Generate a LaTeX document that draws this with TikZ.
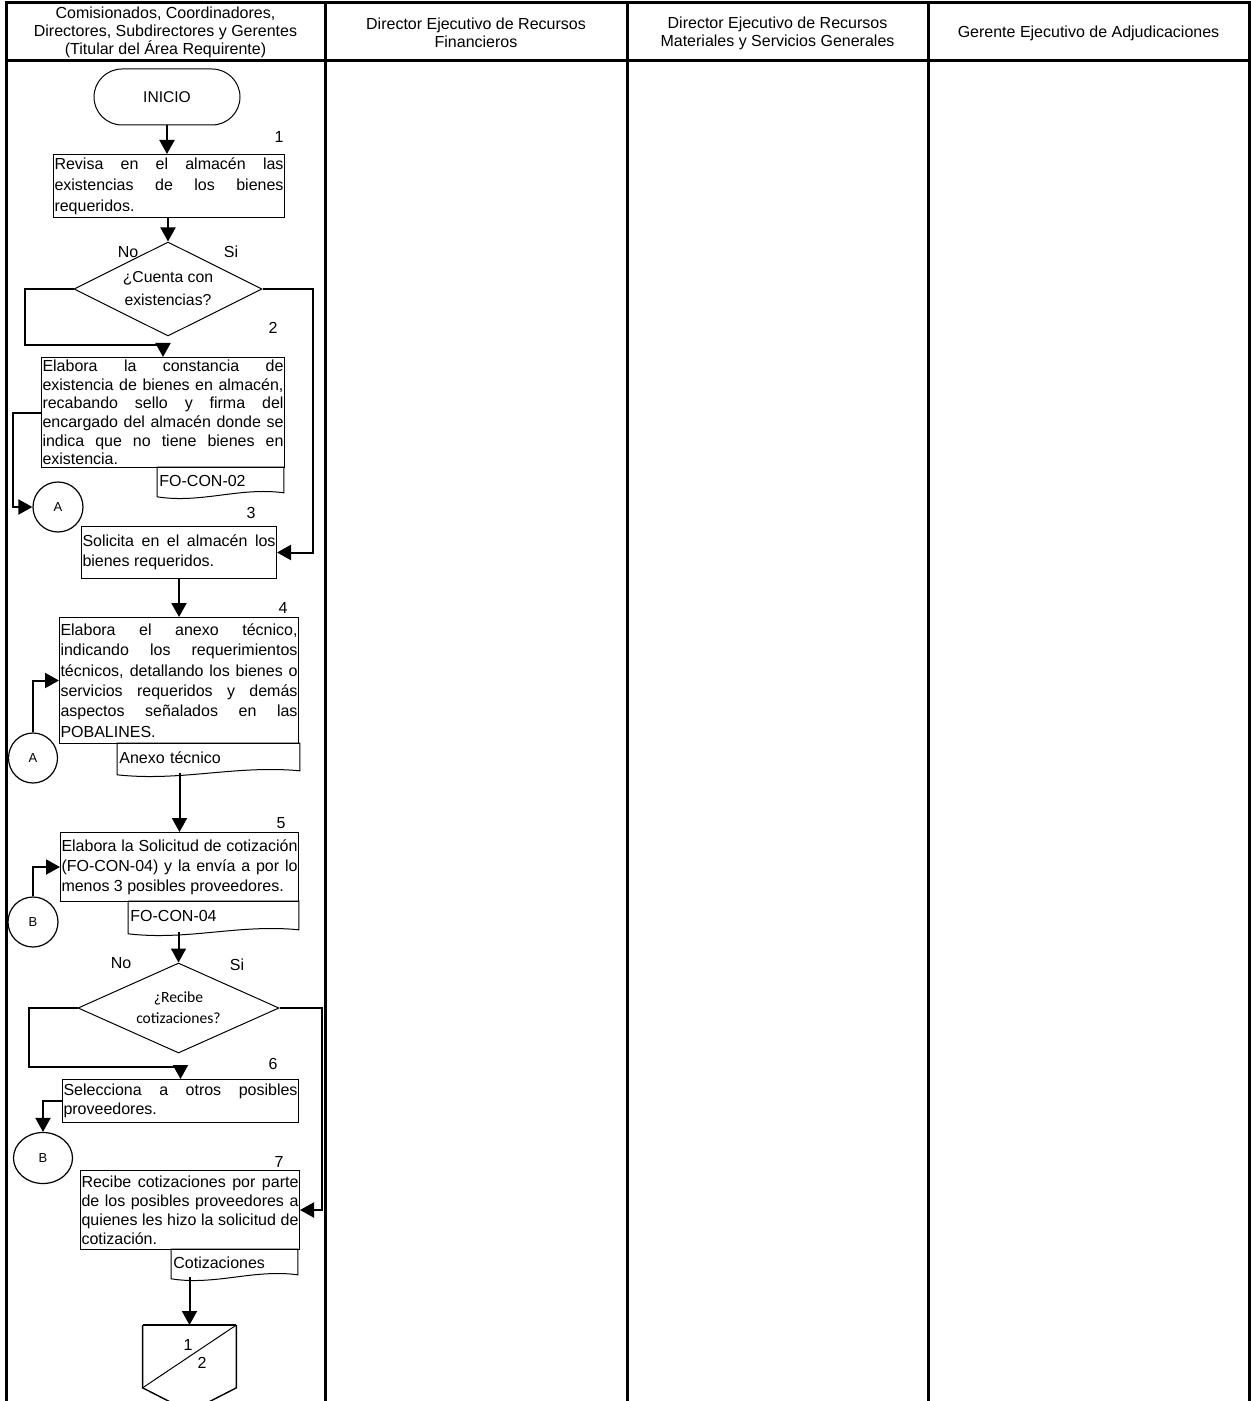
\documentclass[tikz,border=0pt]{standalone}
\usepackage{fontspec}
\setmainfont{Liberation Sans}
\newfontfamily\calibri{Carlito}
\usepackage{tikz}
\usetikzlibrary{arrows.meta, shapes.geometric, calc}
\setlength{\parindent}{0pt}
\hyphenpenalty=10000
\exhyphenpenalty=10000
\tolerance=10000
% document symbol: wavy bottom drawn round a named node
\newcommand{\docwave}[1]{%
\draw[linea] (#1.north west) -- ($(#1.south west)+(0,2)$)
  .. controls ($(#1.south west)!0.35!(#1.south east)+(0,9)$) and ($(#1.south west)!0.65!(#1.south east)+(0,-8)$) .. ($(#1.south east)+(0,-2)$)
  -- (#1.north east) -- cycle;}

\begin{document}
\begin{tikzpicture}[x=0.5pt, y=-0.5pt,
  linea/.style={line width=0.5pt},
  tabla/.style={line width=1.5pt},
  flecha/.style={line width=1pt, -{Triangle[length=7pt,width=7.5pt]}},
  encabezado/.style={align=center, font=\fontsize{8}{9}\selectfont},
  terminal/.style={draw, line width=0.5pt, rounded corners=14pt, minimum width=73pt, minimum height=28pt, font=\fontsize{7.8}{9}\selectfont},
  caja/.style={draw, line width=0.5pt, anchor=north west, align=justify, inner xsep=0.5pt, inner ysep=0pt, font=\fontsize{8}{#1}\selectfont},
  doc/.style={anchor=north west, align=left, inner xsep=1pt, inner ysep=0pt, font=\fontsize{8}{9.4}\selectfont},
  decision/.style={draw, diamond, shape aspect=2, line width=0.5pt, inner sep=0pt, align=center},
  conector/.style={draw, ellipse, line width=0.6pt, inner sep=0pt, font=\fontsize{6.5}{7}\selectfont},
  num/.style={inner sep=0pt, font=\fontsize{8}{9}\selectfont}]
\useasboundingbox (0,0) rectangle (1251,1401);
\clip (0,0) rectangle (1251,1401);
% lanes
\draw[tabla] (6,3) rectangle (1249,1420);
\draw[tabla] (6,61) -- (1249,61);
\foreach \x in {325,627,928}
  \draw[tabla] (\x,3) -- (\x,1420);
\node[encabezado] (h1) at (165.5,32) {Comisionados, Coordinadores,\\Directores, Subdirectores y Gerentes\\(Titular del Área Requirente)};
\node[encabezado] (h2) at (476,33) {Director Ejecutivo de Recursos\\Financieros};
\node[encabezado] (h3) at (777.5,33) {Director Ejecutivo de Recursos\\Materiales y Servicios Generales};
\node[encabezado] (h4) at (1088.5,33) {Gerente Ejecutivo de Adjudicaciones};

% steps 1 to 3
\node[terminal] (inicio) at (167,97) {INICIO};
\node[num] (n1) at (279,137) {1};
\node[caja=10.4, text width=114.5pt, minimum height=31.5pt] (r1) at (53,154) {Revisa en el almacén las\linebreak existencias de los bienes\linebreak requeridos.};
\node[decision, minimum width=94pt, minimum height=47pt, font=\fontsize{7.9}{11.5}\selectfont] (d1) at (168,289) {¿Cuenta con\\existencias?};
\node[num] (no1) at (128,252) {No};
\node[num] (si1) at (231,252) {Si};
\node[num] (n2) at (273,328) {2};
\node[caja=9.35, text width=120.5pt, minimum height=55pt] (r2) at (41,357) {Elabora la constancia de\linebreak existencia de bienes en almacén,\linebreak recabando sello y firma del\linebreak encargado del almacén donde se\linebreak indica que no tiene bienes en\linebreak existencia.};
\node[doc, text width=61pt, minimum height=13.5pt] (dc2) at (157,467) {FO-CON-02};
\docwave{dc2}
\node[conector, minimum width=25pt, minimum height=25pt] (cA1) at (58,507) {A};
\node[num] (n3) at (251,513) {3};
\node[caja=10, text width=96.5pt, minimum height=26pt] (r3) at (81,526) {Solicita en el almacén los\linebreak bienes requeridos.};

% steps 4 and 5
\node[num] (n4) at (283,608) {4};
\node[caja=10.2, text width=118.5pt, minimum height=63pt] (r4) at (59,617) {Elabora el anexo técnico,\linebreak indicando los requerimientos\linebreak técnicos, detallando los bienes o\linebreak servicios requeridos y demás\linebreak aspectos señalados en las\linebreak POBALINES.};
\node[doc, text width=89pt, minimum height=14.5pt] (dc4) at (117,743) {Anexo técnico};
\docwave{dc4}
\node[conector, minimum width=24.5pt, minimum height=25pt] (cA2) at (33,758) {A};
\node[num] (n5) at (281,823) {5};
\node[caja=10, text width=118pt, minimum height=34.5pt] (r5) at (60,832) {Elabora la Solicitud de cotización\linebreak (FO-CON-04) y la envía a por lo\linebreak menos 3 posibles proveedores.};
\node[doc, text width=83pt, minimum height=15pt] (dc5) at (128,901) {FO-CON-04};
\docwave{dc5}
\node[conector, minimum width=25pt, minimum height=25pt] (cB1) at (33,922) {B};

% steps 6 and 7
\node[decision, minimum width=100.5pt, minimum height=45pt, font=\calibri\fontsize{7.8}{10.5}\selectfont] (d2) at (178.5,1008) {¿Recibe\\cotizaciones?};
\node[num] (no2) at (121,963) {No};
\node[num] (si2) at (237,965) {Si};
\node[num] (n6) at (273,1064) {6};
\node[caja=9.2, text width=117pt, minimum height=21.5pt] (r6) at (62,1079) {Selecciona a otros posibles\linebreak proveedores.};
\node[conector, minimum width=29.5pt, minimum height=25.5pt] (cB2) at (43,1158) {B};
\node[num] (n7) at (279,1162) {7};
\node[caja=9.5, text width=108.5pt, minimum height=39.5pt] (r7) at (80,1170) {Recibe cotizaciones por parte\linebreak de los posibles proveedores a\linebreak quienes les hizo la solicitud de\linebreak cotización.};
\node[doc, text width=61pt, minimum height=13.5pt] (dc7) at (171,1249) {Cotizaciones};
\docwave{dc7}
% off-page connector
\node[minimum width=46.5pt, minimum height=31pt, inner sep=0pt, anchor=north] (op) at (189.5,1325) {};
\draw[line width=0.7pt] (op.north west) -- (op.south west) -- ($(op.south)+(0,24)$) -- (op.south east) -- (op.north east);
\draw[line width=1pt] (op.north west) -- (op.north east);
\draw[linea] (op.south west) -- (op.north east);
\node[num] (op1) at (188,1345) {1};
\node[num] (op2) at (202,1363) {2};

% connectors
\coordinate (q1) at (25,345);
\coordinate (q2) at (313,420);
\coordinate (q3) at (13,460);
\coordinate (q4) at (29,1067);
\coordinate (q5) at (322,1100);
\draw[flecha] (inicio.south) -- (inicio.south |- r1.north);
\draw[flecha] (d1.north |- r1.south) -- (d1.north);
\draw[flecha] (d1.west) -| (q1) -| (r2.north);
\draw[flecha] (d1.east) -| (q2) |- (r3.east);
\draw[flecha] (r2.west) -| (q3) |- (cA1.west);
\draw[flecha] (r3.south) -- (r3.south |- r4.north);
\draw[flecha] (cA2.north) |- (r4.west);
\draw[flecha] (r5.north |- dc4.south) -- (r5.north);
\draw[flecha] (cB1.north) |- (r5.west);
\draw[flecha] (d2.north |- dc5.south) -- (d2.north);
\draw[flecha] (d2.west) -| (q4) -| (r6.north);
\draw[flecha] (d2.east) -| (q5) |- (r7.east);
\draw[flecha] (r6.west) -| (cB2.north);
\draw[flecha] (op.north |- dc7.south) -- (op.north);
\end{tikzpicture}
\end{document}
